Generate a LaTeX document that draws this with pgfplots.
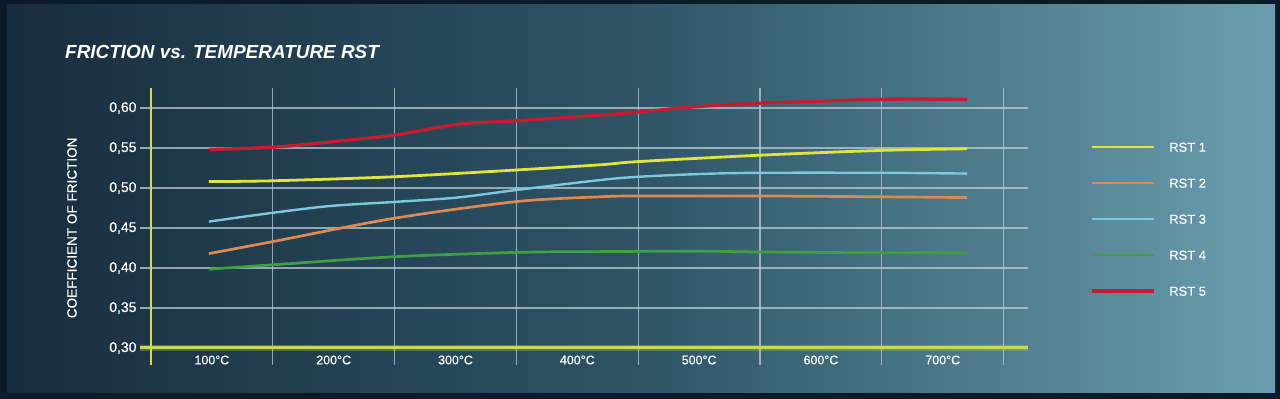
\documentclass[border=0pt]{standalone}
\usepackage{fontspec}
\setmainfont{Liberation Sans}
\newfontfamily\medfont{Liberation Sans}[FakeBold=0.5]
\usepackage{pgfplots}
\pgfplotsset{compat=1.18}
\definecolor{frameC}{HTML}{0C1B29}
\definecolor{bgL}{HTML}{182D3E}
\definecolor{bgM}{HTML}{2E5466}
\definecolor{bgR}{HTML}{6A9EAF}
\definecolor{gridC}{HTML}{B8CBD6}
\definecolor{rstA}{HTML}{E2E43C}
\definecolor{rstB}{HTML}{DA8A52}
\definecolor{rstC}{HTML}{7CC8DC}
\definecolor{rstD}{HTML}{3FA043}
\definecolor{rstE}{HTML}{C21E30}
\definecolor{axY}{HTML}{D6D94C}
\definecolor{axB}{HTML}{C8D65A}
\begin{document}
\begin{tikzpicture}
\fill[frameC] (0bp,0bp) rectangle (1280bp,399bp);
\shade[left color=bgL, right color=bgR, middle color=bgM] (7bp,6bp) rectangle (1275bp,394bp);
\node[anchor=west, text=white, font=\fontsize{19}{22}\selectfont\bfseries\itshape, inner sep=0pt] at (65bp,347bp) {FRICTION vs. TEMPERATURE RST};
\begin{axis}[
  at={(140bp,34bp)}, anchor=south west,
  scale only axis, width=888bp, height=277bp,
  xmin=-0.09, xmax=7.2, ymin=0.27875, ymax=0.625,
  axis line style={draw=none},
  major tick length=0pt, minor tick length=0pt,
  xtick={0.5,1.5,2.5,3.5,4.5,5.5,6.5},
  xticklabels={100°C,200°C,300°C,400°C,500°C,600°C,700°C},
  extra x ticks={1,2,3,4,5,6,7},
  extra x tick labels={},
  extra x tick style={grid=major},
  xmajorgrids=false,
  ymajorgrids=true,
  ytick={0.30,0.35,0.40,0.45,0.50,0.55,0.60},
  grid style={gridC, opacity=0.75, line width=1.1bp},
  /pgf/number format/assume math mode=true,
  yticklabel style={/pgf/number format/.cd, fixed, fixed zerofill, precision=2, use comma},
  tick label style={font=\medfont\fontsize{14}{16}\selectfont, text=white},
  xticklabel style={anchor=center, yshift=5bp, font=\medfont\fontsize{12.5}{15}\selectfont},
  ylabel={COEFFICIENT OF FRICTION},
  ylabel style={at={(axis description cs:-0.0766,0.495)}, anchor=center, font=\medfont\fontsize{13.6}{16}\selectfont, text=white},
  legend image code/.code={\draw[#1] (0bp,0bp) -- (62bp,0bp); \path (76bp,0bp);},
  legend style={draw=none, fill=none, inner sep=0pt, outer sep=0pt,
    at={(axis description cs:1.0698,0.804)}, anchor=north west,
    row sep=26.6bp,
    nodes={inner sep=0pt, text=white, font=\medfont\fontsize{13}{15}\selectfont, text height=9.4bp, text depth=0bp}},
  legend cell align=left,
]
\addplot[rstA, line width=2.8bp, smooth] coordinates {
(0.476,0.508) (1.0,0.509) (1.99,0.514) (3.0,0.5225) (3.69,0.529) (4.0,0.533) (5.0,0.541) (6.0,0.547) (6.70,0.549)};
\addlegendentry{RST 1}
\addplot[rstB, line width=2.7bp, smooth] coordinates {
(0.476,0.418) (1.0,0.433) (1.99,0.462) (3.0,0.483) (3.69,0.489) (4.0,0.490) (5.0,0.490) (6.0,0.489) (6.70,0.488)};
\addlegendentry{RST 2}
\addplot[rstC, line width=2.4bp, smooth] coordinates {
(0.476,0.458) (1.0,0.469) (1.47,0.4775) (1.99,0.4825) (2.51,0.488) (3.0,0.4975) (3.69,0.51) (4.0,0.514) (4.51,0.5175) (5.0,0.519) (6.0,0.519) (6.70,0.518)};
\addlegendentry{RST 3}
\addplot[rstD, line width=2.7bp, smooth] coordinates {
(0.476,0.3985) (1.0,0.404) (1.99,0.414) (3.0,0.4195) (3.69,0.4205) (4.5,0.421) (5.0,0.420) (6.0,0.419) (6.70,0.419)};
\addlegendentry{RST 4}
\addplot[rstE, line width=3.3bp, smooth] coordinates {
(0.476,0.548) (1.0,0.551) (1.5,0.558) (1.99,0.566) (2.54,0.580) (3.0,0.584) (3.69,0.591) (4.0,0.595) (4.51,0.602) (5.0,0.606) (5.6,0.609) (6.0,0.611) (6.70,0.611)};
\addlegendentry{RST 5}
\draw[axY, line width=2bp] (axis cs:0,0.27875) -- (axis cs:0,0.625);
\draw[axB, line width=6bp, opacity=0.3] (axis cs:-0.09,0.30) -- (axis cs:7.2,0.30);
\draw[axB, line width=3bp] (axis cs:-0.09,0.30) -- (axis cs:7.2,0.30);
\end{axis}
\end{tikzpicture}
\end{document}
